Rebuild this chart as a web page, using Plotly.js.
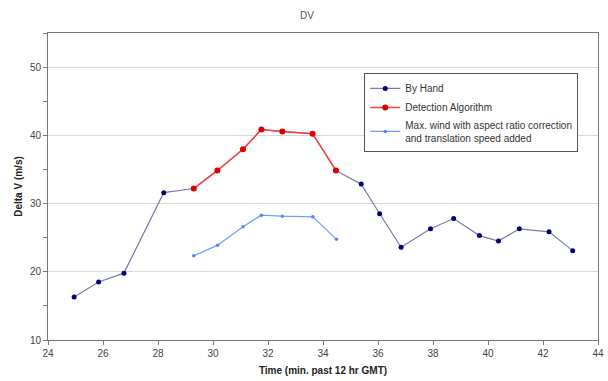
<!DOCTYPE html>
<html>
<head>
<meta charset="utf-8">
<script src="https://cdn.plot.ly/plotly-3.0.1.min.js"></script>
<style>html,body{margin:0;padding:0;background:#fff;}#chart{width:608px;height:381px;}</style>
</head>
<body>
<div id="chart"></div>
<script>
// By Hand
const handX = [24.95, 25.84, 26.76, 28.21, 29.30, 30.16, 31.09, 31.76, 32.52, 33.62, 34.47, 35.39, 36.06, 36.84, 37.91, 38.75, 39.69, 40.38, 41.14, 42.22, 43.08];
const handY = [16.3, 18.5, 19.8, 31.6, 32.2, 34.85, 37.95, 40.85, 40.55, 40.25, 34.85, 32.85, 28.5, 23.6, 26.3, 27.8, 25.3, 24.5, 26.3, 25.85, 23.1];
// Detection Algorithm
const detX = [29.30, 30.16, 31.09, 31.76, 32.52, 33.62, 34.47];
const detY = [32.2, 34.85, 37.95, 40.85, 40.55, 40.25, 34.85];
// Max. wind with aspect ratio correction and translation speed added
const windX = [29.30, 30.17, 31.09, 31.76, 32.52, 33.63, 34.49];
const windY = [22.35, 23.9, 26.6, 28.3, 28.15, 28.05, 24.75];

const names = ["By Hand", "Detection Algorithm", "Max. wind with aspect ratio correction<br>and translation speed added"];

const traces = [
  {x: handX, y: handY, name: names[0], mode: "lines+markers", legendgroup: "a",
   line: {color: "#7a7aa8", width: 1.2}, marker: {color: "#000080", size: 5}},
  {x: detX, y: detY, name: names[1], mode: "lines+markers", legendgroup: "b",
   line: {color: "#ff4040", width: 1.5}, marker: {color: "#dd0000", size: 6}},
  {x: windX, y: windY, name: names[2], mode: "lines+markers", legendgroup: "c",
   line: {color: "#6f9cff", width: 1.2}, marker: {color: "#4f86ff", size: 3.5}}
];

const layout = {
  width: 608, height: 381,
  margin: {l: 48, r: 10, t: 33, b: 41},
  paper_bgcolor: "#fff", plot_bgcolor: "#fff",
  font: {family: "Liberation Sans, Arial, sans-serif", size: 10, color: "#444"},
  title: {text: "DV", x: 0.505, xanchor: "center", y: 0.96, yanchor: "middle",
          font: {size: 10, color: "#555"}},
  showlegend: true,
  legend: {x: 0.575, y: 0.87, xanchor: "left", yanchor: "top",
           bgcolor: "#fff", bordercolor: "#555", borderwidth: 1,
           font: {size: 10, color: "#333"}, tracegroupgap: 0, itemwidth: 30,
           traceorder: "grouped"},
  xaxis: {range: [24, 44], dtick: 2, tick0: 24, showgrid: false, zeroline: false,
          showline: true, linecolor: "#777", linewidth: 1, mirror: true,
          ticks: "outside", ticklen: 4, tickcolor: "#777",
          tickfont: {size: 10, color: "#444"},
          title: {text: "<b>Time (min. past 12 hr GMT)</b>", font: {size: 10, color: "#222"}, standoff: 8}},
  yaxis: {range: [10, 55], dtick: 10, tick0: 10, showgrid: true, gridcolor: "#d8d8d8", gridwidth: 1,
          zeroline: false, showline: true, linecolor: "#777", linewidth: 1, mirror: true,
          ticks: "outside", ticklen: 4, tickcolor: "#777",
          minor: {dtick: 5, ticks: "outside", ticklen: 4, tickcolor: "#777", showgrid: false},
          tickfont: {size: 10, color: "#444"},
          title: {text: "<b>Delta V (m/s)</b>", font: {size: 10, color: "#222"}, standoff: 5}}
};

Plotly.newPlot("chart", traces, layout, {displayModeBar: false, staticPlot: true});
</script>
</body>
</html>
